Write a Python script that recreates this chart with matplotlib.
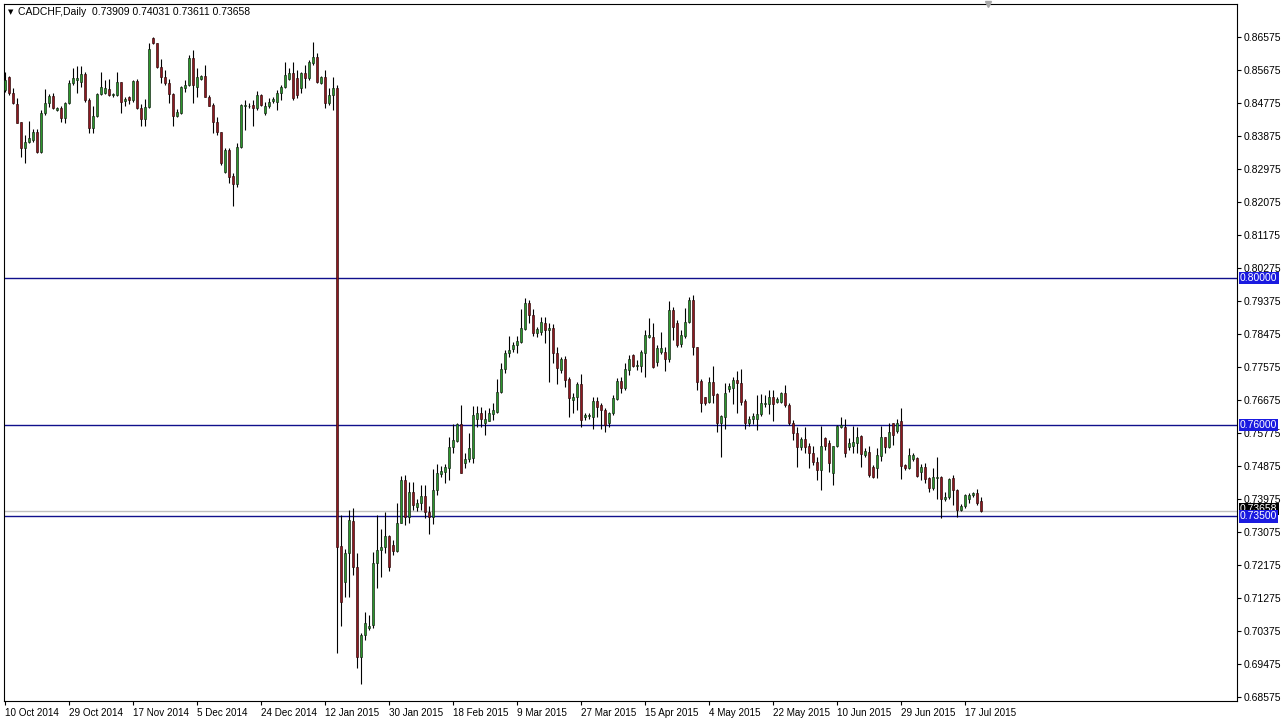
import numpy as np
import matplotlib
matplotlib.use("Agg")
import matplotlib.pyplot as plt
from matplotlib.transforms import blended_transform_factory

plt.rcParams["font.family"] = ["Liberation Sans", "DejaVu Sans"]

# ============================
# Daily CADCHF candles, 10 Oct 2014 .. 22 Jul 2015 (6 bars a week)
# ============================
opens = [
    .8513, .8549, .8504, .8475, .8427, .8354, .8372, .8377, .8399, .8345,
    .8449, .8477, .8497, .8458, .8463, .8436, .8477, .8531, .8540, .8536,
    .8557, .8486, .8408, .8442, .8501, .8506, .8515, .8499, .8499, .8534,
    .8483, .8493, .8486, .8538, .8463, .8433, .8466, .8654, .8640, .8577,
    .8549, .8531, .8502, .8443, .8451, .8518, .8527, .8599, .8522, .8544,
    .8551, .8495, .8472, .8427, .8398, .8290, .8349, .8278, .8256, .8358,
    .8469, .8468, .8472, .8463, .8499, .8449, .8468, .8483, .8481, .8504,
    .8520, .8542, .8558, .8545, .8518, .8560, .8545, .8586, .8604, .8533,
    .8549, .8477, .8499, .8518, .7270, .7170, .7250, .7338, .7213, .6966,
    .7027, .7045, .7054, .7222, .7259, .7266, .7297, .7272, .7257, .7331,
    .7450, .7348, .7416, .7377, .7388, .7406, .7363, .7348, .7422, .7466,
    .7472, .7481, .7539, .7557, .7602, .7497, .7506, .7509, .7615, .7631,
    .7606, .7611, .7629, .7636, .7690, .7751, .7795, .7806, .7818, .7827,
    .7860, .7931, .7899, .7851, .7852, .7877, .7859, .7865, .7797, .7749,
    .7779, .7724, .7668, .7675, .7711, .7622, .7624, .7622, .7666, .7654,
    .7640, .7606, .7631, .7669, .7720, .7699, .7749, .7789, .7760, .7760,
    .7797, .7839, .7839, .7772, .7799, .7799, .7779, .7913, .7877, .7819,
    .7842, .7879, .7940, .7813, .7720, .7675, .7663, .7718, .7684, .7604,
    .7622, .7697, .7699, .7722, .7715, .7666, .7606, .7615, .7615, .7629,
    .7657, .7657, .7675, .7663, .7663, .7688, .7654, .7606, .7577, .7540,
    .7560, .7542, .7524, .7499, .7477, .7563, .7549, .7469, .7542, .7593,
    .7593, .7540, .7542, .7551, .7569, .7518, .7527, .7486, .7481, .7515,
    .7566, .7539, .7604, .7584, .7609, .7490, .7481, .7506, .7509, .7472,
    .7486, .7454, .7427, .7456, .7459, .7397, .7402, .7454, .7422, .7368,
    .7379, .7397, .7409, .7413, .73909,
]
highs = [
    .8563, .8551, .8518, .8490, .8427, .8390, .8429, .8406, .8406, .8458,
    .8515, .8502, .8506, .8466, .8469, .8481, .8540, .8572, .8578, .8578,
    .8563, .8490, .8468, .8504, .8563, .8540, .8542, .8504, .8563, .8536,
    .8495, .8497, .8540, .8542, .8475, .8488, .8640, .8657, .8642, .8597,
    .8568, .8542, .8506, .8460, .8524, .8540, .8608, .8622, .8572, .8554,
    .8581, .8499, .8477, .8440, .8399, .8354, .8354, .8288, .8368, .8475,
    .8486, .8477, .8486, .8511, .8502, .8481, .8490, .8495, .8513, .8527,
    .8590, .8572, .8590, .8568, .8563, .8581, .8595, .8645, .8613, .8551,
    .8568, .8518, .8549, .8527, .7354, .7260, .7368, .7372, .7251, .7031,
    .7090, .7081, .7254, .7354, .7315, .7363, .7300, .7286, .7386, .7460,
    .7463, .7445, .7445, .7397, .7436, .7436, .7379, .7479, .7493, .7487,
    .7493, .7568, .7602, .7604, .7654, .7522, .7577, .7651, .7651, .7649,
    .7640, .7645, .7660, .7724, .7768, .7804, .7842, .7827, .7842, .7915,
    .7945, .7940, .7915, .7868, .7895, .7895, .7877, .7875, .7813, .7786,
    .7788, .7731, .7688, .7718, .7739, .7631, .7631, .7677, .7677, .7660,
    .7645, .7636, .7681, .7727, .7731, .7768, .7790, .7793, .7777, .7804,
    .7859, .7890, .7877, .7818, .7854, .7813, .7938, .7922, .7886, .7859,
    .7918, .7949, .7954, .7813, .7724, .7677, .7731, .7759, .7686, .7627,
    .7713, .7713, .7731, .7748, .7751, .7669, .7624, .7631, .7681, .7684,
    .7681, .7695, .7695, .7675, .7690, .7709, .7659, .7613, .7593, .7566,
    .7593, .7549, .7542, .7513, .7597, .7568, .7559, .7542, .7599, .7620,
    .7615, .7563, .7597, .7593, .7572, .7536, .7542, .7490, .7536, .7597,
    .7568, .7604, .7604, .7615, .7645, .7493, .7536, .7522, .7511, .7493,
    .7497, .7457, .7481, .7511, .7460, .7418, .7454, .7463, .7424, .7384,
    .7411, .7413, .7418, .7424, .74031,
]
lows = [
    .8508, .8499, .8475, .8422, .8331, .8315, .8368, .8372, .8342, .8342,
    .8445, .8466, .8460, .8457, .8427, .8424, .8475, .8527, .8506, .8522,
    .8481, .8397, .8397, .8440, .8499, .8502, .8497, .8493, .8497, .8451,
    .8468, .8475, .8481, .8460, .8415, .8415, .8463, .8638, .8572, .8531,
    .8527, .8477, .8415, .8440, .8448, .8508, .8524, .8478, .8495, .8540,
    .8493, .8468, .8395, .8390, .8308, .8288, .8260, .8197, .8249, .8354,
    .8404, .8463, .8415, .8458, .8469, .8445, .8463, .8478, .8458, .8486,
    .8518, .8540, .8486, .8490, .8504, .8518, .8540, .8581, .8531, .8529,
    .8463, .8472, .8458, .6977, .7050, .7131, .7131, .7190, .6936, .6893,
    .7013, .7040, .7045, .7154, .7186, .7250, .7202, .7245, .7254, .7331,
    .7327, .7333, .7368, .7366, .7368, .7345, .7302, .7330, .7409, .7459,
    .7440, .7449, .7522, .7554, .7468, .7481, .7499, .7497, .7595, .7595,
    .7572, .7609, .7613, .7633, .7686, .7740, .7786, .7799, .7795, .7822,
    .7859, .7877, .7842, .7839, .7845, .7822, .7718, .7768, .7711, .7742,
    .7704, .7622, .7631, .7639, .7595, .7613, .7615, .7588, .7622, .7588,
    .7581, .7595, .7627, .7668, .7688, .7695, .7736, .7757, .7749, .7745,
    .7731, .7836, .7755, .7759, .7793, .7748, .7772, .7831, .7813, .7813,
    .7836, .7877, .7790, .7695, .7636, .7654, .7660, .7660, .7581, .7511,
    .7588, .7690, .7658, .7633, .7654, .7588, .7597, .7602, .7586, .7624,
    .7649, .7629, .7609, .7659, .7659, .7649, .7599, .7559, .7486, .7531,
    .7522, .7481, .7490, .7449, .7422, .7531, .7472, .7436, .7539, .7590,
    .7513, .7531, .7522, .7522, .7486, .7513, .7459, .7454, .7454, .7502,
    .7522, .7536, .7545, .7577, .7451, .7477, .7479, .7502, .7459, .7449,
    .7442, .7418, .7422, .7399, .7345, .7393, .7399, .7381, .7349, .7366,
    .7372, .7386, .7404, .7381, .73611,
]
closes = [
    .8540, .8504, .8477, .8424, .8354, .8372, .8381, .8399, .8345, .8449,
    .8477, .8497, .8463, .8463, .8436, .8477, .8533, .8545, .8545, .8557,
    .8486, .8408, .8442, .8501, .8520, .8518, .8499, .8502, .8536, .8481,
    .8488, .8486, .8538, .8463, .8433, .8466, .8624, .8640, .8575, .8549,
    .8531, .8502, .8443, .8454, .8520, .8527, .8599, .8527, .8548, .8551,
    .8495, .8469, .8427, .8398, .8313, .8349, .8277, .8256, .8358, .8472,
    .8472, .8470, .8463, .8499, .8472, .8469, .8481, .8489, .8504, .8520,
    .8554, .8560, .8490, .8499, .8560, .8545, .8588, .8604, .8536, .8549,
    .8477, .8499, .8518, .7268, .7118, .7250, .7340, .7213, .6966, .7027,
    .7059, .7052, .7222, .7259, .7266, .7297, .7213, .7257, .7331, .7450,
    .7348, .7416, .7381, .7388, .7406, .7363, .7348, .7422, .7468, .7474,
    .7484, .7540, .7559, .7602, .7469, .7506, .7536, .7627, .7631, .7615,
    .7615, .7633, .7639, .7689, .7752, .7797, .7804, .7818, .7829, .7863,
    .7931, .7899, .7851, .7860, .7879, .7859, .7865, .7795, .7754, .7779,
    .7722, .7672, .7677, .7711, .7613, .7627, .7627, .7666, .7649, .7639,
    .7599, .7633, .7672, .7720, .7699, .7751, .7779, .7760, .7763, .7799,
    .7845, .7845, .7757, .7809, .7809, .7779, .7913, .7868, .7818, .7845,
    .7879, .7940, .7811, .7718, .7660, .7660, .7718, .7681, .7606, .7624,
    .7688, .7706, .7722, .7713, .7663, .7606, .7617, .7624, .7629, .7659,
    .7660, .7675, .7657, .7669, .7688, .7654, .7604, .7577, .7540, .7560,
    .7540, .7524, .7499, .7477, .7542, .7542, .7497, .7542, .7597, .7599,
    .7522, .7551, .7554, .7568, .7520, .7529, .7463, .7459, .7518, .7566,
    .7539, .7579, .7572, .7606, .7488, .7481, .7518, .7518, .7460, .7486,
    .7451, .7427, .7459, .7459, .7397, .7404, .7451, .7422, .7369, .7379,
    .7409, .7409, .7413, .7388, .73658,
]

date_labels = [
    "10 Oct 2014", "29 Oct 2014", "17 Nov 2014", "5 Dec 2014", "24 Dec 2014",
    "12 Jan 2015", "30 Jan 2015", "18 Feb 2015", "9 Mar 2015", "27 Mar 2015",
    "15 Apr 2015", "4 May 2015", "22 May 2015", "10 Jun 2015", "29 Jun 2015",
    "17 Jul 2015",
]
label_every = 16  # bars between date labels

price_ticks = [0.86575 - 0.009 * k for k in range(21)]
levels = [0.80000, 0.76000, 0.73500]
last_price = 0.73658
title = "CADCHF,Daily  0.73909 0.74031 0.73611 0.73658"

# ============================
# Figure
# ============================
W, H = 1282, 721
fig = plt.figure(figsize=(W / 100, H / 100), dpi=100)
fig.patch.set_facecolor("white")
ax = fig.add_axes([4 / W, 20 / H, 1233 / W, 697 / H])

o = np.array(opens)
h = np.array(highs)
l = np.array(lows)
c = np.array(closes)
x = np.arange(len(o))
up = c >= o

bull = "#2c962c"
bear = "#8e1820"

ax.vlines(x, l, h, color="black", lw=0.8, zorder=2)
ax.bar(x[up], (c - o)[up], bottom=o[up], width=0.7, color=bull,
       edgecolor="#102010", lw=0.45, zorder=3)
ax.bar(x[~up], (c - o)[~up], bottom=o[~up], width=0.7, color=bear,
       edgecolor="#2a0808", lw=0.45, zorder=3)

ax.set_xlim(-0.25, 308)
ax.set_ylim(0.68468, 0.87475)

# level lines + price boxes on the right
ax.axhline(last_price, color="#c0c0c0", lw=1, zorder=1)
for lv in levels:
    ax.axhline(lv, color="#10108c", lw=1, zorder=1)

fs = 7.5
tr = blended_transform_factory(ax.transAxes, ax.transData)
# current price box sits just above the 0.735 box, half hidden as in MT4
ax.text(1.0025, last_price + 0.00045, f"{last_price:.5f}", transform=tr, fontsize=fs,
        color="white", va="center", ha="left", zorder=5,
        bbox=dict(boxstyle="square,pad=0.1", fc="black", ec="none"))
for lv in levels:
    ax.text(1.0025, lv, f"{lv:.5f}", transform=tr, fontsize=fs,
            color="white", va="center", ha="left", zorder=6,
            bbox=dict(boxstyle="square,pad=0.1", fc="#1a1ae0", ec="none"))

# axes
ax.yaxis.tick_right()
ax.set_yticks(price_ticks)
ax.set_yticklabels([f"{v:.5f}" for v in price_ticks])
ax.tick_params(axis="y", direction="out", length=3, width=0.8, labelsize=fs, pad=2)

xt = [i * label_every for i in range(len(date_labels))]
ax.set_xticks(xt)
ax.set_xticklabels(date_labels, ha="left")
ax.tick_params(axis="x", direction="out", length=3, width=0.8, labelsize=7.1, pad=2)

for s in ax.spines.values():
    s.set_color("black")
    s.set_linewidth(0.8)

# header
ax.text(0.0035, 0.9885, "\u25bc", transform=ax.transAxes, fontsize=5,
        va="center", ha="left", family="DejaVu Sans")
ax.text(0.0115, 0.9885, title, transform=ax.transAxes, fontsize=fs,
        va="center", ha="left")

# chart shift marker
ax.plot([245.75], [0.87475], marker="v", color="#a8a8a8", markersize=5,
        clip_on=False, zorder=4)

fig.savefig("out.png", dpi=100, facecolor="white")
